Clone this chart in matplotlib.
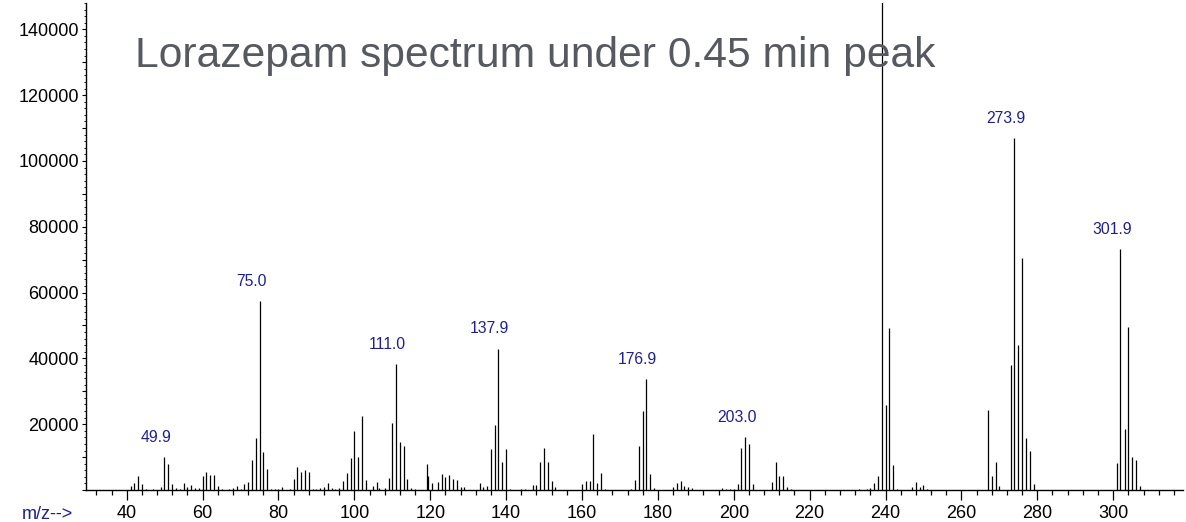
import matplotlib
matplotlib.use("Agg")
import matplotlib.pyplot as plt
from matplotlib.ticker import MultipleLocator, FuncFormatter

plt.rcParams['font.family'] = ['Liberation Sans', 'DejaVu Sans']

# m/z values and abundances
mz = [41, 42, 43, 44, 45, 47, 49, 49.9, 51, 52, 53, 54, 55, 56, 57, 58, 59,
      60, 61, 62, 63, 64, 65, 67, 68, 69, 70, 71, 72, 73, 74, 75.0, 76, 77, 78,
      79, 80, 81, 83, 84, 85, 86, 87, 88, 89, 90, 91, 92, 93, 94, 95, 96, 97,
      98, 99, 100, 101, 102, 103, 105, 106, 106.6, 108, 109, 110, 111.0, 112,
      113, 114, 115, 116, 119.2, 119.5, 120.4, 122, 123, 124, 125, 126, 127,
      128, 129, 133, 134, 135, 136, 137, 137.9, 139, 140, 141, 143, 144, 145,
      147, 148, 149, 150, 151, 152, 153, 156, 160, 161, 162, 163, 164, 165,
      166, 171, 173, 174, 175, 176, 176.9, 178, 179, 184, 185, 186, 187, 188,
      189, 197, 198, 199, 200, 201, 202, 203.0, 204, 205, 210, 211, 212, 213,
      214, 215, 233, 235, 236, 237, 238, 239, 240, 241, 242, 243, 244, 247,
      248, 249, 250, 251, 267, 268, 269, 270, 273, 273.9, 275, 276, 277, 278,
      279, 301, 301.9, 303, 304, 305, 306, 307]
abund = [1200, 2100, 4250, 1800, 300, 200, 800, 9900, 7900, 1700, 500, 200,
         2100, 1000, 1600, 500, 500, 4350, 5600, 4550, 4450, 1100, 200, 400,
         600, 1200, 400, 1800, 2300, 9000, 15900, 57500, 11400, 6400, 400,
         300, 400, 800, 400, 3300, 6900, 5500, 6200, 5600, 200, 200, 500, 1000,
         2100, 500, 300, 500, 2700, 5300, 9600, 18000, 9900, 22600, 2900, 1300,
         2400, 600, 500, 3500, 20300, 38300, 14500, 13500, 3200, 500, 200,
         7900, 4250, 2000, 2300, 4900, 4000, 4600, 3400, 3000, 900, 900, 2100,
         900, 1200, 12500, 19900, 43000, 8600, 12400, 400, 100, 200, 400, 1400,
         1400, 8500, 12800, 8600, 2600, 900, 100, 1800, 2700, 2600, 17100,
         2200, 5100, 300, 100, 400, 2900, 13400, 24000, 33800, 4900, 600, 1000,
         2000, 2600, 1200, 1000, 500, 500, 300, 300, 400, 1800, 12900, 16100,
         14100, 1800, 2400, 8600, 4300, 4250, 1000, 300, 300, 200, 500, 2150,
         4200, 160000, 25800, 49100, 7500, 450, 100, 800, 2300, 800, 1450, 300,
         24300, 4300, 8450, 1200, 38000, 107000, 44000, 70400, 15800, 11900,
         1800, 8200, 73100, 18500, 49600, 10100, 9100, 1150]
labelled = [49.9, 75.0, 111.0, 137.9, 176.9, 203.0, 273.9, 301.9]

navy = '#1f1f8f'

fig = plt.figure(figsize=(11.86, 5.22), dpi=100)
ax = fig.add_axes([86/1186, 1 - 490/522, 1097/1186, 487/522])

ax.vlines(mz, 0, abund, colors='black', linewidth=0.9)
for m in labelled:
    ax.annotate('{:.1f}'.format(m), xy=(m, abund[mz.index(m)]),
                xytext=(-6, 11), textcoords='offset points',
                ha='center', va='baseline', color=navy, fontsize=11.3)

ax.set_xlim(29.27, 318.4)
ax.set_ylim(0, 148000)

for side in ['top', 'right']:
    ax.spines[side].set_visible(False)
for side in ['left', 'bottom']:
    ax.spines[side].set_linewidth(1.0)

# x axis: labels every 20, small ticks every 4
ax.xaxis.set_major_locator(MultipleLocator(20))
ax.xaxis.set_minor_locator(MultipleLocator(4))
ax.tick_params(axis='x', which='major', length=7, width=0.9, pad=4,
               labelsize=13)
ax.tick_params(axis='x', which='minor', length=3.6, width=0.9)

# y axis: labels every 20000, ticks every 10000 and 2000
ax.yaxis.set_major_locator(MultipleLocator(10000))
ax.yaxis.set_minor_locator(MultipleLocator(2000))
ax.yaxis.set_major_formatter(
    FuncFormatter(lambda v, p: '' if v == 0 or v % 20000 else '%d' % v))
ax.tick_params(axis='y', which='major', length=3, width=0.8, pad=2,
               labelsize=13)
ax.tick_params(axis='y', which='minor', length=1.5, width=0.6)

fig.text(22/1186, 1 - 519/522, 'm/z-->', color=navy, fontsize=13,
         ha='left', va='baseline')
fig.text(135/1186, 1 - 67/522, 'Lorazepam spectrum under 0.45 min peak',
         color='#565a60', fontsize=30.7, ha='left', va='baseline')

fig.savefig('out.png', dpi=100)
